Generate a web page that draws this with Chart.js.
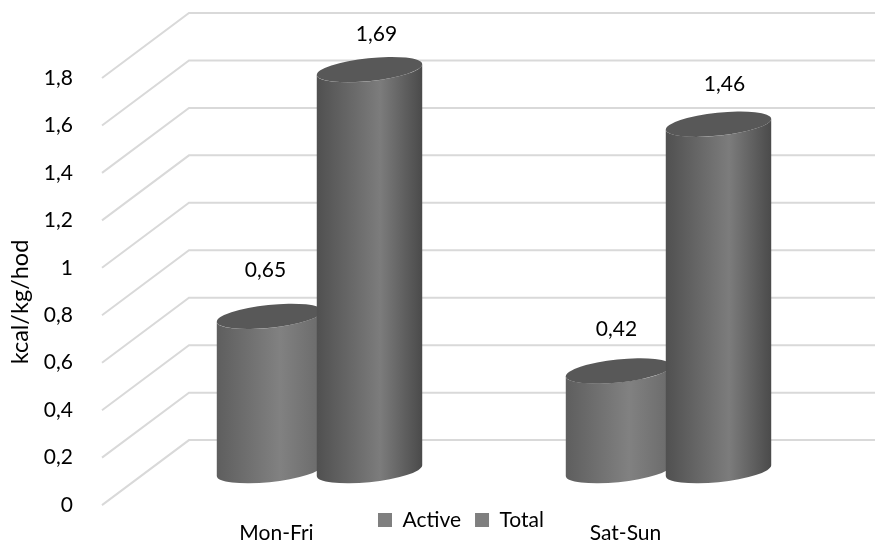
<!DOCTYPE html>
<html>
<head>
<meta charset="utf-8">
<script src="https://cdn.jsdelivr.net/npm/chart.js@4"></script>
<style>
  body { margin: 0; background: #fff; }
  canvas { display: block; }
</style>
</head>
<body>
<canvas id="chart" width="875" height="541"></canvas>
<script>
const categories = ['Mon-Fri', 'Sat-Sun'];
const activeValues = [0.65, 0.42];
const totalValues = [1.69, 1.46];
const yTickLabels = ['0', '0,2', '0,4', '0,6', '0,8', '1', '1,2', '1,4', '1,6', '1,8'];

const FONT = 'Lato';
const FONT_SIZE = 21;
// depth of the fake 3D floor, and how far into it the cylinders stand
const DEPTH_X = 87, DEPTH_Y = 65;
const BAR_SHIFT_X = 43, BAR_SHIFT_Y = 34.5;
// hand placed labels in the original, nudges from the default spot
const labelNudge = [[[-4, -46], [7, -35]], [[-2, -42], [6, -40]]];

const shades = [
    ['#5e5e5e', '#818181', '#6a6a6a'],
    ['#505050', '#7c7c7c', '#4a4a4a']
];

function drawCylinder(ctx, el, colors) {
    const a = 53, b = 11.5, rot = -6 * Math.PI / 180;
    const cx = el.x + BAR_SHIFT_X;
    const top = el.y - BAR_SHIFT_Y;
    const bottom = el.base - BAR_SHIFT_Y;
    // angle on the ellipse where it is widest, the sides start there
    const t = Math.atan2(-b * Math.tan(rot), a);

    const grad = ctx.createLinearGradient(cx - a, 0, cx + a, 0);
    grad.addColorStop(0, colors[0]);
    grad.addColorStop(0.6, colors[1]);
    grad.addColorStop(1, colors[2]);

    ctx.beginPath();
    ctx.ellipse(cx, bottom, a, b, rot, t, t + Math.PI);
    ctx.ellipse(cx, top, a, b, rot, t + Math.PI, t, true);
    ctx.closePath();
    ctx.fillStyle = grad;
    ctx.fill();

    ctx.beginPath();
    ctx.ellipse(cx, top, a, b, rot, 0, Math.PI * 2);
    ctx.fillStyle = '#585858';
    ctx.fill();
}

const fakeThreeD = {
    id: 'fakeThreeD',
    afterLayout(chart) {
        // legend sits up between the category labels, a bit right of centre
        const legend = chart.legend;
        legend.left += 61;
        legend.right += 61;
        legend.top -= 65.4;
        legend.bottom -= 65.4;
    },
    beforeDatasetsDraw(chart) {
        const ctx = chart.ctx;
        const y = chart.scales.y;
        const area = chart.chartArea;

        ctx.save();
        ctx.strokeStyle = '#d9d9d9';
        ctx.lineWidth = 2;
        y.ticks.forEach(tick => {
            const py = y.getPixelForValue(tick.value);
            ctx.beginPath();
            ctx.moveTo(area.left, py);
            ctx.lineTo(area.left + DEPTH_X, py - DEPTH_Y);
            ctx.lineTo(area.right + DEPTH_X, py - DEPTH_Y);
            ctx.stroke();
        });

        chart.data.datasets.forEach((ds, i) => {
            chart.getDatasetMeta(i).data.forEach(el => drawCylinder(ctx, el, shades[i]));
        });

        ctx.fillStyle = '#000';
        ctx.font = FONT_SIZE + 'px ' + FONT;
        ctx.textAlign = 'center';
        ctx.textBaseline = 'middle';
        chart.data.datasets.forEach((ds, i) => {
            chart.getDatasetMeta(i).data.forEach((el, j) => {
                const nudge = labelNudge[j][i];
                ctx.fillText(String(ds.data[j]).replace('.', ','),
                    el.x + BAR_SHIFT_X + nudge[0], el.y - BAR_SHIFT_Y + nudge[1]);
            });
        });
        // axis title is below the axis middle in the original
        ctx.translate(20, 302);
        ctx.rotate(-Math.PI / 2);
        ctx.font = '23.5px ' + FONT;
        ctx.fillText('kcal/kg/hod', 0, 0);
        ctx.restore();
        return false;
    }
};

new Chart(document.getElementById('chart').getContext('2d'), {
    type: 'bar',
    data: {
        labels: categories,
        datasets: [
            { label: 'Active', data: activeValues, backgroundColor: '#7f7f7f' },
            { label: 'Total', data: totalValues, backgroundColor: '#7f7f7f' }
        ]
    },
    options: {
        responsive: false,
        animation: false,
        layout: { padding: { top: 78, right: 75, bottom: -64.9, left: 0 } },
        datasets: { bar: { categoryPercentage: 0.573, barPercentage: 1 } },
        plugins: {
            legend: {
                position: 'bottom',
                labels: {
                    boxWidth: 14,
                    boxHeight: 14,
                    padding: 14,
                    color: '#000',
                    font: { family: FONT, size: FONT_SIZE }
                }
            },
            tooltip: { enabled: false }
        },
        scales: {
            x: {
                grid: { display: false, drawTicks: false },
                border: { display: false },
                ticks: {
                    padding: 15.3,
                    maxRotation: 0,
                    color: '#000',
                    font: { family: FONT, size: FONT_SIZE }
                }
            },
            y: {
                min: 0,
                max: 1.8,
                afterFit(scale) { scale.width = 102; },
                grid: { display: false },
                border: { display: false },
                ticks: {
                    stepSize: 0.2,
                    padding: 21,
                    color: '#000',
                    font: { family: FONT, size: FONT_SIZE },
                    callback: (v, i) => yTickLabels[i]
                }
            }
        }
    },
    plugins: [fakeThreeD]
});
</script>
</body>
</html>
